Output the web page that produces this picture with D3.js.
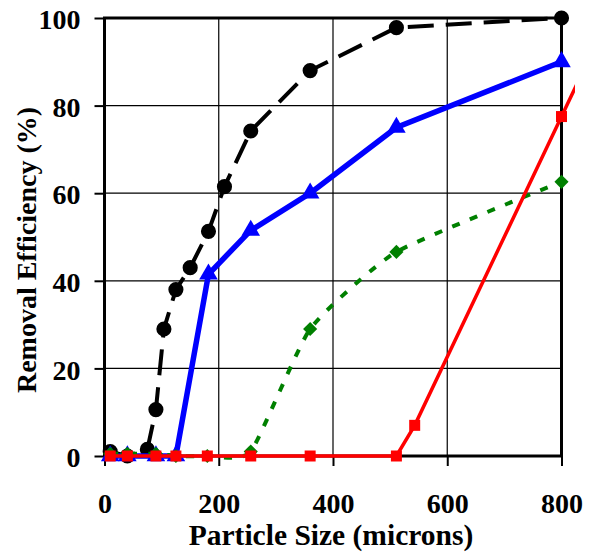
<!DOCTYPE html>
<html>
<head>
<meta charset="utf-8">
<script src="https://cdn.jsdelivr.net/npm/d3@7"></script>
<style>
  body { margin: 0; background: #fff; }
  text { font-family: "Liberation Serif", "Times New Roman", serif; font-weight: bold; }
</style>
</head>
<body>
<div id="chart"></div>
<script>
// values: [particle size, removal efficiency]
const seriesBlack = [[10,1],[40,0],[75,1.5],[90,10.6],[104,29],[125,38],[150,43],[182,51.3],[210,61.5],[256,74.2],[360,88],[511,97.8],[800,100]];
const seriesBlue  = [[10,0],[40,0],[90,0],[125,0],[182,41.5],[256,51.5],[360,60],[511,75],[800,90]];
const seriesGreen = [[10,0.5],[40,0.5],[90,0.5],[125,0],[180,0],[256,1],[360,29],[511,46.6],[800,62.6]];
const seriesRed   = [[10,0],[40,0],[90,0],[125,0],[180,0],[256,0],[360,0],[511,0],[543,7],[800,77.5],[840,88.5]];

const xTicks = [0,200,400,600,800];
const yTicks = [0,20,40,60,80,100];

const width = 595, height = 554;
const margin = {top: 18, right: 33.5, bottom: 98, left: 104.5};
const innerW = width - margin.left - margin.right;
const innerH = height - margin.top - margin.bottom;

const svg = d3.select("#chart").append("svg")
    .attr("width", width)
    .attr("height", height);

svg.append("defs").append("clipPath").attr("id", "chartArea")
  .append("rect").attr("x", -margin.left).attr("y", -margin.top)
    .attr("width", 575).attr("height", height);

const g = svg.append("g").attr("transform", `translate(${margin.left},${margin.top})`);

const x = d3.scaleLinear().domain([0,800]).range([0, innerW]);
const y = d3.scaleLinear().domain([0,100]).range([innerH, 0]);

// grid
g.append("g").selectAll("line").data(yTicks.slice(1,-1)).join("line")
    .attr("x1", 0).attr("x2", innerW)
    .attr("y1", d => y(d)).attr("y2", d => y(d))
    .attr("stroke", "#000").attr("stroke-width", 1.2);
g.append("g").selectAll("line").data(xTicks.slice(1,-1)).join("line")
    .attr("y1", 0).attr("y2", innerH)
    .attr("x1", d => x(d)).attr("x2", d => x(d))
    .attr("stroke", "#000").attr("stroke-width", 1.2);

// axes
const xAxis = g.append("g")
    .attr("transform", `translate(0,${innerH})`)
    .call(d3.axisBottom(x).tickValues(xTicks).tickSize(10).tickPadding(47).tickSizeOuter(0));
const yAxis = g.append("g")
    .call(d3.axisLeft(y).tickValues(yTicks).tickSize(10).tickPadding(14).tickSizeOuter(0));

[xAxis, yAxis].forEach(a => {
  a.select(".domain").remove();
  a.selectAll(".tick line").attr("stroke", "#000").attr("stroke-width", 2);
  a.selectAll("text").attr("fill", "#000").style("font-size", "28px");
});
xAxis.selectAll("text").attr("dy", "0");
yAxis.selectAll("text").attr("dy", "0.38em");

// plot border
g.append("rect")
    .attr("width", innerW).attr("height", innerH)
    .attr("fill", "none").attr("stroke", "#000").attr("stroke-width", 3);

// series
const lineLinear = d3.line().x(d => x(d[0])).y(d => y(d[1]));
const lineSmooth = d3.line().x(d => x(d[0])).y(d => y(d[1])).curve(d3.curveCardinal.tension(0.5));

const plot = g.append("g").attr("clip-path", "url(#chartArea)");

function drawSeries(data, gen, color, sw, dash, symbol, size, rot) {
  plot.append("path").datum(data)
    .attr("d", gen)
    .attr("fill", "none")
    .attr("stroke", color)
    .attr("stroke-width", sw)
    .attr("stroke-dasharray", dash);
  plot.append("g").selectAll("path").data(data.filter(d => d[0] <= 800)).join("path")
    .attr("d", d3.symbol().type(symbol).size(size))
    .attr("transform", d => `translate(${x(d[0])},${y(d[1])}) rotate(${rot})`)
    .attr("fill", color);
}

drawSeries(seriesBlack, lineLinear, "#000", 4, "26,12", d3.symbolCircle, 180, 0);
drawSeries(seriesBlue, lineLinear, "#0000ff", 5.5, null, d3.symbolTriangle, 150, 0);
drawSeries(seriesGreen, lineSmooth, "#008000", 4, "8,11", d3.symbolSquare, 100, 45);
drawSeries(seriesRed, lineLinear, "#ff0000", 3.5, null, d3.symbolSquare, 121, 0);

// axis titles
svg.append("text")
    .attr("x", margin.left + innerW / 2 - 2)
    .attr("y", 545)
    .attr("text-anchor", "middle")
    .style("font-size", "29.5px")
    .text("Particle Size (microns)");

svg.append("text")
    .attr("transform", `translate(36,250) rotate(-90)`)
    .attr("text-anchor", "middle")
    .style("font-size", "28px")
    .text("Removal Efficiency (%)");
</script>
</body>
</html>
